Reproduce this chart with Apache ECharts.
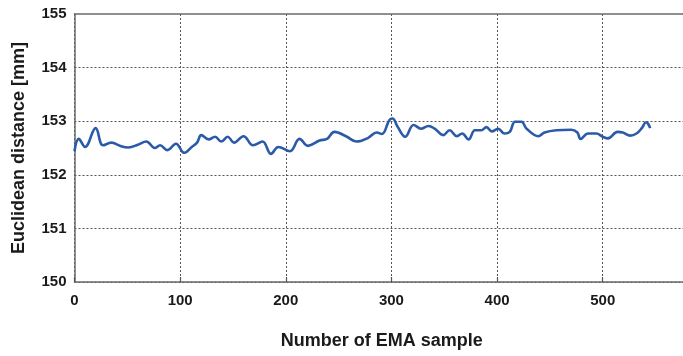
<!DOCTYPE html>
<html>
<head>
<meta charset="utf-8">
<script src="https://cdn.jsdelivr.net/npm/echarts@6/dist/echarts.min.js"></script>
<style>
  html, body { margin: 0; padding: 0; background: #fff; overflow: hidden; }
  #chart { width: 683px; height: 356px; }
</style>
</head>
<body>
<div id="chart"></div>
<script>
// EMA sample index and the Euclidean distance measured at it
const sampleIdx = [0, 4, 10, 20, 27, 35, 43, 51, 60, 68, 76, 81, 88, 96, 104, 111, 116, 120, 127, 133,
  139, 145, 151, 160, 169, 178, 186, 193, 204, 213, 221, 232, 239, 246, 257, 267, 278, 286, 291, 298,
  301, 306, 313, 321, 328, 335, 341, 349, 355, 362, 367, 373, 379, 385, 390, 395, 401, 407, 412, 417,
  423, 428, 439, 445, 456, 470, 476, 479, 486, 494, 500, 505, 514, 519, 526, 532, 537, 541, 543, 545];
const distance = [152.44, 152.67, 152.52, 152.87, 152.55, 152.60, 152.54, 152.51, 152.56, 152.62,
  152.50, 152.55, 152.46, 152.58, 152.41, 152.52, 152.60, 152.74, 152.66, 152.71,
  152.62, 152.71, 152.60, 152.72, 152.55, 152.62, 152.39, 152.52, 152.44, 152.67,
  152.54, 152.64, 152.67, 152.80, 152.72, 152.62, 152.69, 152.79, 152.76, 153.02,
  153.05, 152.89, 152.71, 152.93, 152.86, 152.91, 152.86, 152.74, 152.83, 152.72,
  152.77, 152.66, 152.83, 152.83, 152.89, 152.81, 152.86, 152.77, 152.80, 152.99,
  152.99, 152.86, 152.72, 152.79, 152.83, 152.84, 152.79, 152.67, 152.77, 152.77,
  152.71, 152.68, 152.80, 152.79, 152.73, 152.77, 152.87, 152.98, 152.95, 152.87];

// visible x range ends just short of the 600 gridline
const xRange = [0, 576];
const yTicks = [150, 151, 152, 153, 154, 155];

const points = sampleIdx.map((x, i) => [x, distance[i]]);

const font = '"Liberation Sans", Arial, sans-serif';
const frame = { color: '#6a6a6a', width: 1.5 };
const dotted = { color: '#555', type: [2, 2], width: 1 };
const chart = echarts.init(document.getElementById('chart'), null, { renderer: 'canvas' });
chart.setOption({
  animation: false,
  grid: { left: 74.5, right: 0, top: 14, bottom: 74 },
  xAxis: [{
    type: 'value',
    min: xRange[0], max: xRange[1], interval: 100,
    name: 'Number of EMA sample',
    nameLocation: 'middle', nameGap: 50,
    nameTextStyle: { fontFamily: font, fontWeight: 'bold', fontSize: 18, color: '#1a1a1a', padding: [0, 0, 0, 6] },
    axisLine: { show: true, lineStyle: frame },
    axisTick: { show: true, inside: true, length: 5, lineStyle: { color: '#555', width: 1.2 } },
    axisLabel: { fontFamily: font, fontWeight: 'bold', fontSize: 15, color: '#1a1a1a', margin: 11, showMaxLabel: false },
    splitLine: { show: true, showMaxLine: false, lineStyle: dotted }
  }, {
    // top frame line
    type: 'value', position: 'top',
    min: xRange[0], max: xRange[1],
    axisLine: { show: true, lineStyle: frame },
    axisTick: { show: false }, axisLabel: { show: false }, splitLine: { show: false }
  }],
  yAxis: {
    type: 'value',
    min: yTicks[0], max: yTicks[yTicks.length - 1], interval: 1,
    name: 'Euclidean distance [mm]',
    nameLocation: 'middle', nameGap: 46,
    nameTextStyle: { fontFamily: font, fontWeight: 'bold', fontSize: 18, color: '#1a1a1a' },
    axisLine: { show: true, lineStyle: frame },
    axisTick: { show: false },
    axisLabel: { fontFamily: font, fontWeight: 'bold', fontSize: 15, color: '#1a1a1a', margin: 8 },
    splitLine: { show: true, showMaxLine: false, lineStyle: dotted }
  },
  series: [{
    type: 'line',
    data: points,
    smooth: 0.4,
    showSymbol: false,
    lineStyle: { color: '#2b5ba8', width: 2.6 },
    z: 5
  }]
});
</script>
</body>
</html>
